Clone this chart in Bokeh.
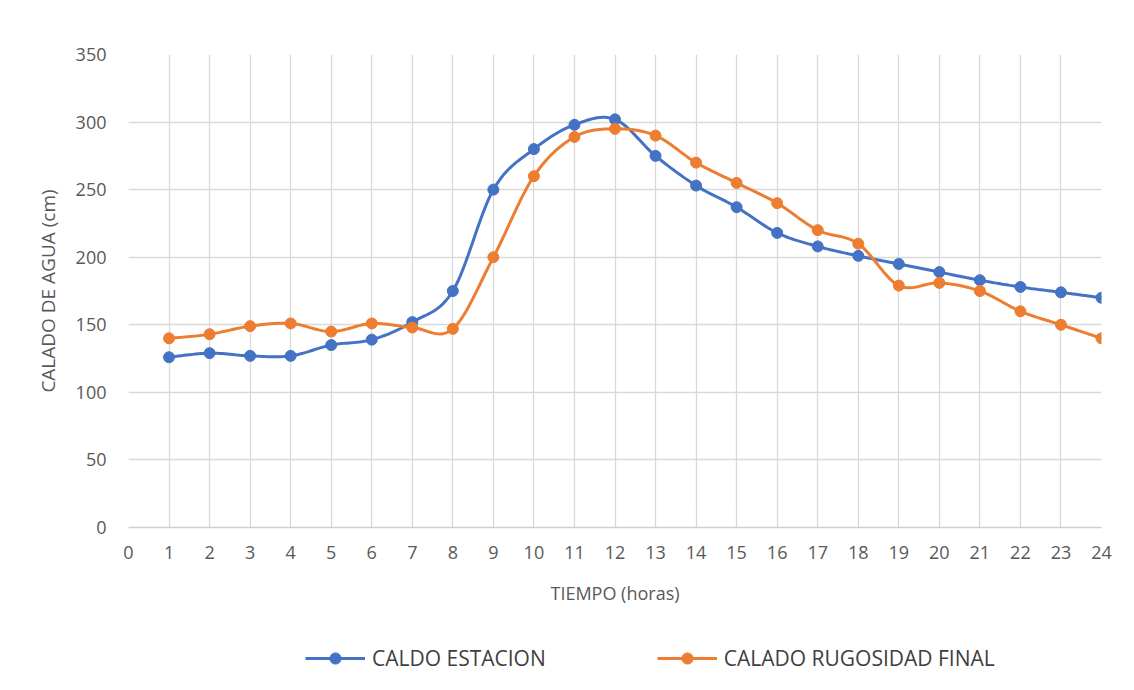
import numpy as np
from bokeh.plotting import figure
from bokeh.layouts import column
from bokeh.models import Legend, LegendItem, FixedTicker, Range1d
from bokeh.embed import file_html
from bokeh.resources import INLINE

horas = list(range(1, 25))
caldo_estacion = [126, 129, 127, 127, 135, 139, 152, 175, 250, 280, 298, 302,
                  275, 253, 237, 218, 208, 201, 195, 189, 183, 178, 174, 170]
calado_rugosidad = [140, 143, 149, 151, 145, 151, 148, 147, 200, 260, 289, 295,
                    290, 270, 255, 240, 220, 210, 179, 181, 175, 160, 150, 140]
x_ticks = list(range(0, 25))
y_ticks = [0, 50, 100, 150, 200, 250, 300, 350]

BLUE = "#4472C4"
ORANGE = "#ED7D31"
GRAY = "#595959"
FONT = "Open Sans"


def smooth(xs, ys, n=16):
    """Excel-like smoothed line (uniform Catmull-Rom) through the data points."""
    xs = np.asarray(xs, float)
    ys = np.asarray(ys, float)
    P = np.column_stack([xs, ys])
    P = np.vstack([P[0], P, P[-1]])
    out = []
    for i in range(1, len(P) - 2):
        p0, p1, p2, p3 = P[i - 1], P[i], P[i + 1], P[i + 2]
        c1 = p1 + (p2 - p0) / 6.0
        c2 = p2 - (p3 - p1) / 6.0
        t = np.linspace(0, 1, n, endpoint=(i == len(P) - 3))[:, None]
        seg = ((1 - t) ** 3) * p1 + 3 * ((1 - t) ** 2) * t * c1 + 3 * (1 - t) * t ** 2 * c2 + t ** 3 * p2
        out.append(seg)
    out = np.vstack(out)
    return out[:, 0], out[:, 1]


p = figure(width=1118, height=612, output_backend="svg", toolbar_location=None,
           x_range=Range1d(0, 24), y_range=Range1d(0, 350),
           min_border_left=128, min_border_right=17, min_border_top=54, min_border_bottom=85)

p.outline_line_color = None
p.background_fill_color = "white"
p.border_fill_color = "white"

p.xgrid.ticker = FixedTicker(ticks=x_ticks)
p.ygrid.ticker = FixedTicker(ticks=y_ticks)
p.xgrid.grid_line_color = "#D9D9D9"
p.ygrid.grid_line_color = "#D9D9D9"
p.xgrid.grid_line_width = 1.3
p.ygrid.grid_line_width = 1.3

p.xaxis.ticker = FixedTicker(ticks=x_ticks)
p.yaxis.ticker = FixedTicker(ticks=y_ticks)
for ax in (p.xaxis[0], p.yaxis[0]):
    ax.major_tick_line_color = None
    ax.minor_tick_line_color = None
    ax.major_tick_out = 0
    ax.major_tick_in = 0
    ax.major_label_text_font = FONT
    ax.major_label_text_font_size = "18px"
    ax.major_label_text_color = GRAY
    ax.axis_label_text_font = FONT
    ax.axis_label_text_font_size = "18px"
    ax.axis_label_text_font_style = "normal"
    ax.axis_label_text_color = GRAY

p.yaxis.axis_label_text_font_size = "19px"
p.xaxis.axis_line_color = "#CFCFCF"
p.xaxis.axis_line_width = 1.3
p.yaxis.axis_line_color = None
p.xaxis.axis_label = "TIEMPO (horas)"
p.yaxis.axis_label = "CALADO DE AGUA (cm)"
p.xaxis.major_label_standoff = 18
p.xaxis.axis_label_standoff = 19
p.yaxis.major_label_standoff = 22
p.yaxis.axis_label_standoff = 12

bx, by = smooth(horas, caldo_estacion)
ox, oy = smooth(horas, calado_rugosidad)

p.line(bx, by, line_color=BLUE, line_width=3)
p.scatter(horas, caldo_estacion, size=11, color=BLUE)
p.line(ox, oy, line_color=ORANGE, line_width=3)
p.scatter(horas, calado_rugosidad, size=11, color=ORANGE)

# legend strip below the chart (its renderers lie outside its visible range)
lg = figure(width=1118, height=70, output_backend="svg", toolbar_location=None,
            x_range=Range1d(1000, 1001), y_range=Range1d(1000, 1001),
            min_border_left=0, min_border_right=0, min_border_top=0, min_border_bottom=0)
lg.axis.visible = False
lg.grid.visible = False
lg.outline_line_color = None
ll1 = lg.line(horas, caldo_estacion, line_color=BLUE, line_width=3)
ls1 = lg.scatter(horas, caldo_estacion, size=11, color=BLUE)
ll2 = lg.line(horas, calado_rugosidad, line_color=ORANGE, line_width=3)
ls2 = lg.scatter(horas, calado_rugosidad, size=11, color=ORANGE)

legend = Legend(items=[LegendItem(label="CALDO ESTACION", renderers=[ll1, ls1]),
                       LegendItem(label="CALADO RUGOSIDAD FINAL", renderers=[ll2, ls2])],
                orientation="horizontal", location=(177, 10),
                glyph_width=60, glyph_height=28, label_height=28, label_standoff=7,
                spacing=111, padding=0, margin=0,
                label_text_font=FONT, label_text_font_size="21px", label_text_color="#404040",
                background_fill_alpha=0, border_line_color=None)
lg.add_layout(legend, "center")

open("out.html", "w").write(file_html(column(p, lg), INLINE))
